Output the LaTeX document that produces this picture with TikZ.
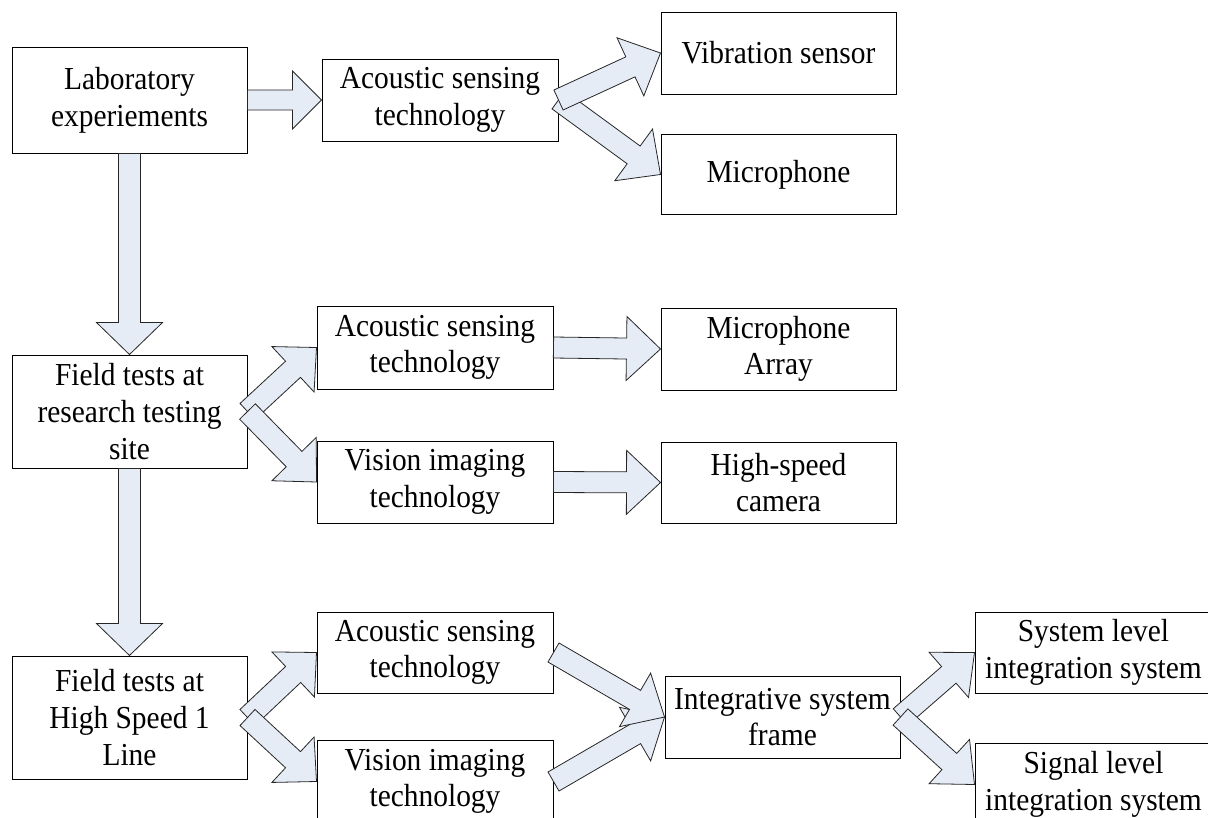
\documentclass[tikz,border=0pt]{standalone}
\usepackage{fontspec}
\setmainfont{Liberation Serif}[FakeStretch=0.92]
\usetikzlibrary{calc}
\definecolor{arrowfill}{RGB}{230,236,246}
% block arrow: from, to, shaft half-width (px), head half-width (px), head length (px)
\newcommand{\barrow}[5]{%
  \draw[barr] let \p1=($(#2)-(#1)$), \n1={atan2(\y1,\x1)},
      \n2={veclen(\x1,\y1)-#5*0.75pt}, \n3={#3*0.75pt}, \n4={#4*0.75pt} in
    ($(#1)+(\n1+90:\n3)$)
    -- ($(#1)+(\n1:\n2)+(\n1+90:\n3)$)
    -- ($(#1)+(\n1:\n2)+(\n1+90:\n4)$)
    -- (#2)
    -- ($(#1)+(\n1:\n2)+(\n1-90:\n4)$)
    -- ($(#1)+(\n1:\n2)+(\n1-90:\n3)$)
    -- ($(#1)+(\n1-90:\n3)$) -- cycle;}
\begin{document}
\begin{tikzpicture}[x=0.75pt,y=-0.75pt,
  box/.style={draw=black, fill=white, line width=0.75pt, align=center,
    inner sep=0pt, font=\fontsize{24}{27.5}\selectfont},
  sz/.style 2 args={minimum width=#1*0.75pt, minimum height=#2*0.75pt},
  barr/.style={draw=black!85, fill=arrowfill, line width=0.6pt, line join=miter}]
\useasboundingbox (0,0) rectangle (1208,818);
\clip (0,0) rectangle (1208,818);
% boxes
\node[box, sz={235}{106}] (lab) at (129.5,100) {Laboratory\\experiements};
\node[box, sz={236}{82}] (as1) at (440,100) {Acoustic sensing\\technology};
\node[box, sz={235}{82}] (vib) at (778.5,53) {Vibration sensor};
\node[box, sz={235}{80}] (mic) at (778.5,174.5) {Microphone};
\node[box, sz={235}{113}] (fld2) at (129.5,411.5) {Field tests at\\research testing\\site};
\node[box, sz={236}{83}] (as2) at (435,347.5) {Acoustic sensing\\technology};
\node[box, sz={235}{82}] (mia) at (778.5,349) {Microphone\\Array};
\node[box, sz={236}{82}] (vis2) at (435,482) {Vision imaging\\technology};
\node[box, sz={235}{81}] (hsc) at (778.5,482.5) {High-speed\\camera};
\node[box, sz={235}{123}] (fld3) at (129.5,717.5) {Field tests at\\High Speed 1\\Line};
\node[box, sz={236}{81}] (as3) at (435,652.5) {Acoustic sensing\\technology};
\node[box, sz={236}{83}] (vis3) at (435,781.5) {Vision imaging\\technology};
\node[box, sz={235}{82}] (isf) at (782.5,717) {Integrative system\\frame};
\node[box, sz={237}{81}] (sys) at (1093.5,652.5) {System level\\integration system};
\node[box, sz={237}{83}] (sig) at (1093.5,784.5) {Signal level\\integration system};
% arrows
\barrow{lab.east}{as1.west}{10}{29}{29}
\barrow{lab.south}{fld2.north}{11}{33}{32}
\barrow{fld2.south}{fld3.north}{11}{33}{32}
\barrow{as1.east}{mic.west}{11}{32}{33}
\barrow{as1.east}{vib.west}{11}{32}{33}
\barrow{fld2.east}{as2.west}{11}{31}{32}
\barrow{fld2.east}{vis2.west}{11}{31}{32}
\barrow{as2.east}{mia.west}{10.5}{32}{34}
\barrow{vis2.east}{hsc.west}{10.5}{32}{34}
\barrow{fld3.east}{as3.west}{11}{31}{32}
\barrow{fld3.east}{vis3.west}{11}{31}{32}
\barrow{vis3.east}{isf.west}{11}{31}{34}
\barrow{as3.east}{isf.west}{11}{31}{34}
\barrow{isf.east}{sys.west}{11}{30}{34}
\barrow{isf.east}{sig.west}{11}{30}{34}
\end{tikzpicture}
\end{document}
